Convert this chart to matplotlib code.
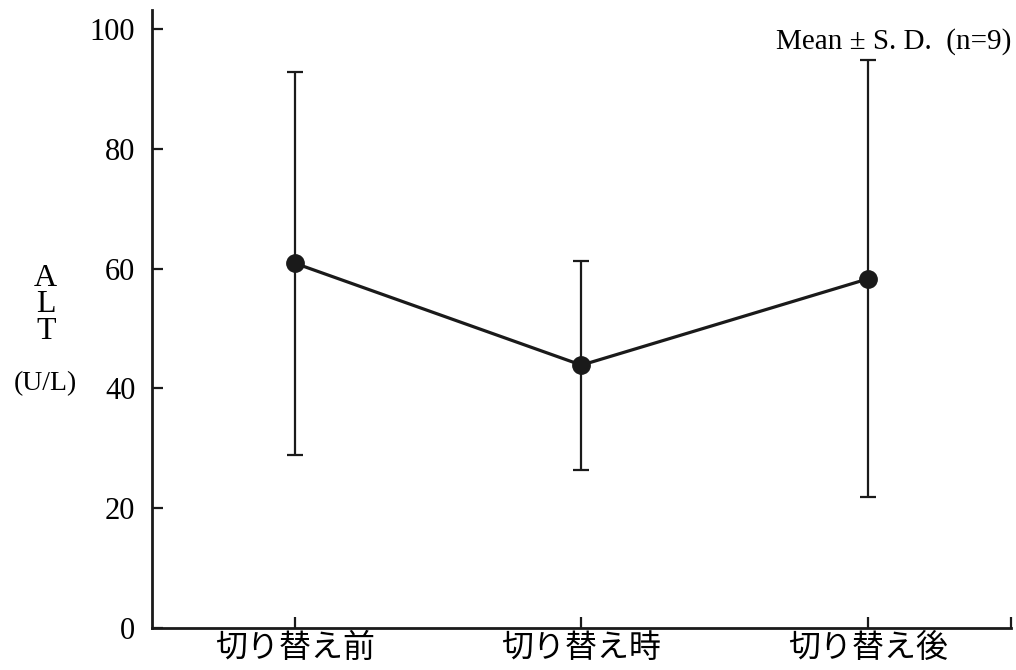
import matplotlib
matplotlib.use('Agg')
import matplotlib.pyplot as plt

plt.rcParams['font.family'] = ['Liberation Serif', 'Noto Sans CJK JP']

# データ
categories = ['切り替え前', '切り替え時', '切り替え後']
means = [60.9, 43.9, 58.3]
upper = [92.9, 61.3, 94.8]
lower = [28.9, 26.4, 21.8]
yticks = [0, 20, 40, 60, 80, 100]

x = list(range(len(categories)))
err_lo = [m - l for m, l in zip(means, lower)]
err_hi = [u - m for m, u in zip(means, upper)]

fig = plt.figure(figsize=(10.16, 6.7), dpi=100)
ax = fig.add_axes([0.1496, 0.0627, 0.8454, 0.9223])

ax.errorbar(x, means, yerr=[err_lo, err_hi], fmt='none', ecolor='#1a1a1a',
            elinewidth=1.6, capsize=6, capthick=1.6, zorder=2)
ax.plot(x, means, color='#1a1a1a', lw=2.3, marker='o', markersize=12.5, zorder=3)

ax.set_xlim(-0.5, 2.5)
ax.set_ylim(0, 103.2)
ax.set_yticks(yticks)
ax.set_yticklabels([str(v) for v in yticks], fontsize=22)
ax.set_xticks(x)
ax.set_xticklabels(categories, fontsize=23, family=['Noto Sans CJK JP'])
ax.set_xticks([2.5], minor=True)

for s in ['top', 'right']:
    ax.spines[s].set_visible(False)
for s in ['left', 'bottom']:
    ax.spines[s].set_linewidth(2.0)
    ax.spines[s].set_color('#1a1a1a')
ax.tick_params(which='both', direction='in', length=8, width=1.6, color='#1a1a1a')
ax.tick_params(axis='y', pad=12)
ax.tick_params(axis='x', pad=3)

fig.text(0.045, 0.545, 'A\nL\nT', ha='center', va='center', fontsize=23,
         linespacing=0.9)
fig.text(0.045, 0.428, '(U/L)', ha='center', va='center', fontsize=20)
fig.text(0.995, 0.938, 'Mean ± S. D.  (n=9)', ha='right', va='center', fontsize=21)

fig.savefig('out.png', dpi=100)
